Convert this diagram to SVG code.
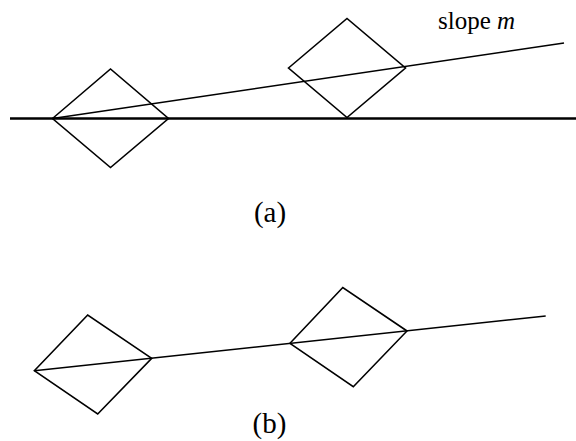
<svg xmlns="http://www.w3.org/2000/svg" width="576" height="441" viewBox="0 0 576 441">
<style>
.shape{fill:none;stroke:#000;stroke-width:1.6;stroke-linejoin:miter}
.line{fill:none;stroke:#000;stroke-width:1.6}
.base{fill:none;stroke:#000;stroke-width:2.4}
.lbl{fill:#000;font-family:Liberation Serif, Times New Roman, Times, serif}
</style>
<rect width="576" height="441" fill="#fff"/>
<g id="connectors">
<line class="base" x1="10" y1="118.5" x2="576" y2="118.5"/>
<line class="line" x1="52.5" y1="118.5" x2="564" y2="43"/>
<line class="line" x1="34.3" y1="370.7" x2="545.7" y2="316"/>
</g>
<g id="diamond-a1"><polygon class="shape" points="52.5,118.5 110.5,69 168.5,118.5 110.5,167.5"/></g>
<g id="diamond-a2"><polygon class="shape" points="288.5,68 347,18.5 405.5,68 347,117.5"/></g>
<g id="diamond-b1"><polygon class="shape" points="34.3,370.7 87.7,315 151.7,358.3 97.7,414"/></g>
<g id="diamond-b2"><polygon class="shape" points="290,343.3 342.8,287.5 407,331 353.3,386.7"/></g>
<g id="labels">
<text class="lbl" x="438" y="28.5" font-size="25">slope <tspan font-style="italic">m</tspan></text>
<text class="lbl" x="270" y="222" font-size="29" text-anchor="middle">(a)</text>
<text class="lbl" x="269.5" y="433" font-size="29" text-anchor="middle">(b)</text>
</g>
</svg>
